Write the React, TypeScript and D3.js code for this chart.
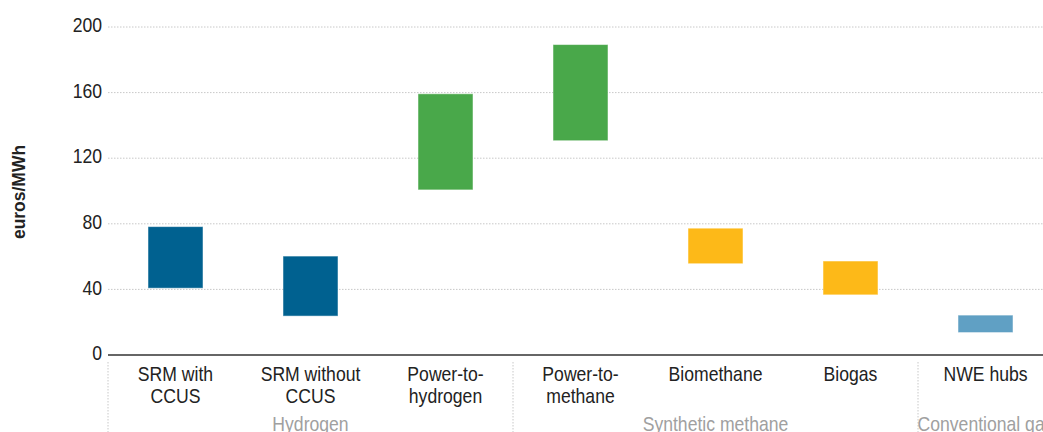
import React from "react";
import * as d3 from "d3";

const categories: string[][] = [
  ["SRM with", "CCUS"],
  ["SRM without", "CCUS"],
  ["Power-to-", "hydrogen"],
  ["Power-to-", "methane"],
  ["Biomethane"],
  ["Biogas"],
  ["NWE hubs"],
];
const lows = [41, 24, 101, 131, 56, 37, 14];
const highs = [78, 60, 159, 189, 77, 57, 24];
const barColors = ["#006190", "#006190", "#49a84a", "#49a84a", "#fdb918", "#fdb918", "#60a0c4"];
const groups = ["Hydrogen", "Synthetic methane", "Conventional gas"];
const groupSpans = [[0, 3], [3, 6], [6, 7]];
const yTicks = [0, 40, 80, 120, 160, 200];
const yTitle = "euros/MWh";

const W = 1043;
const H = 432;
const left = 108;
const right = 1053;
const font = "'Liberation Sans', Arial, sans-serif";
const SX = 0.88;

export default function App() {
  const x = d3
    .scaleBand<number>()
    .domain(d3.range(categories.length))
    .range([left, right])
    .paddingInner(0.6)
    .paddingOuter(0.3);
  const y = d3.scaleLinear().domain([0, 200]).range([355, 27]);
  const step = x.step();
  const boundary = (i: number) => left + i * step;

  return (
    <svg
      width={W}
      height={H}
      style={{ position: "absolute", left: 0, top: 0, background: "#fff" }}
      fontFamily={font}
    >
      {yTicks.filter((t) => t > 0).map((t) => (
        <line
          key={"g" + t}
          x1={left}
          x2={W}
          y1={y(t)}
          y2={y(t)}
          stroke="#c8c8c8"
          strokeWidth={1}
          strokeDasharray="1.5,1.5"
        />
      ))}
      {yTicks.map((t) => (
        <text
          key={"t" + t}
          transform={`translate(102,${y(t)}) scale(${SX},1)`}
          textAnchor="end"
          dominantBaseline="middle"
          fontSize={20}
          fill="#222"
        >
          {t}
        </text>
      ))}
      <text
        transform={`translate(25,192) rotate(-90) scale(0.92,1)`}
        textAnchor="middle"
        fontSize={19}
        fontWeight="bold"
        fill="#222"
      >
        {yTitle}
      </text>
      {categories.map((c, i) => (
        <rect
          key={"b" + i}
          x={x(i)}
          width={x.bandwidth()}
          y={y(highs[i])}
          height={y(lows[i]) - y(highs[i])}
          fill={barColors[i]}
          stroke={barColors[i]}
          strokeOpacity={0.5}
          strokeWidth={1}
        />
      ))}
      <line x1={left} x2={W} y1={y(0)} y2={y(0)} stroke="#333" strokeWidth={1.5} />
      {groupSpans.map((s, gi) => (
        <line
          key={"s" + gi}
          x1={boundary(s[0])}
          x2={boundary(s[0])}
          y1={362}
          y2={H}
          stroke="#c8c8c8"
          strokeWidth={1}
          strokeDasharray="1.5,1.5"
        />
      ))}
      {categories.map((c, i) => (
        <text
          key={"c" + i}
          transform={`translate(${(x(i) as number) + x.bandwidth() / 2},381) scale(${SX},1)`}
          textAnchor="middle"
          fontSize={20}
          fill="#222"
        >
          {c.map((line, li) => (
            <tspan key={li} x={0} dy={li === 0 ? 0 : 22}>
              {line}
            </tspan>
          ))}
        </text>
      ))}
      {groups.map((g, gi) => (
        <text
          key={"gr" + gi}
          transform={`translate(${(boundary(groupSpans[gi][0]) + boundary(groupSpans[gi][1])) / 2},431) scale(${SX},1)`}
          textAnchor="middle"
          fontSize={20}
          fill="#a0a0a0"
        >
          {g}
        </text>
      ))}
    </svg>
  );
}
